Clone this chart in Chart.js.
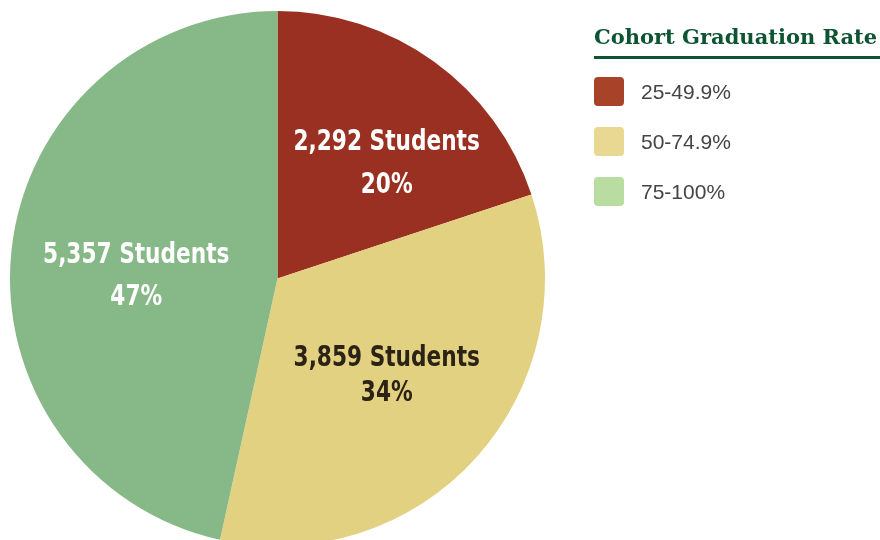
<!DOCTYPE html>
<html>
<head>
<meta charset="utf-8">
<script src="https://cdn.jsdelivr.net/npm/chart.js@4.4.1/dist/chart.umd.min.js"></script>
<style>
  html, body { margin: 0; padding: 0; background: #fff; overflow: hidden; }
  #wrap { position: relative; width: 880px; height: 540px; overflow: hidden; }
  #pie { position: absolute; left: 0; top: 0; }
  #legend { position: absolute; left: 594px; top: 24px; width: 286px; }
  #legend h2 {
    margin: 0; padding: 0 0 7px 0;
    font: bold 21px "DejaVu Serif", serif; color: #0d5432;
    border-bottom: 3px solid #0d5432; white-space: nowrap;
  }
  .item { display: flex; align-items: center; height: 29px; margin-top: 21px; }
  .item:first-of-type { margin-top: 18px; }
  .sw { width: 30px; height: 29px; border-radius: 4px; margin-right: 17px; }
  .item span { font: 21px "Liberation Sans", Arial, sans-serif; color: #444; }
</style>
</head>
<body>
<div id="wrap">
  <canvas id="pie" width="880" height="560"></canvas>
  <div id="legend"><h2>Cohort Graduation Rate</h2></div>
</div>
<script>
// faixas da taxa de graduação e número de alunos em cada uma
var faixas = ['25-49.9%', '50-74.9%', '75-100%'];
var alunos = [2292, 3859, 5357];
var percentuais = ['20%', '34%', '47%'];

var coresPizza = ['#9a3021', '#e3d182', '#87b887'];
var coresLegenda = ['#a8432a', '#e8d891', '#b9dca0'];
var coresTexto = ['#ffffff', '#2b2416', '#ffffff'];
// pequeno ajuste da posição de cada rótulo (px) e espaço entre as linhas
var ajusteRotulo = [[23, 5], [0, -1], [5, 14]];
var entreLinhas = [43, 35, 42];

// legenda em html
var legenda = document.getElementById('legend');
faixas.forEach(function (f, i) {
    var item = document.createElement('div');
    item.className = 'item';
    item.innerHTML = '<div class="sw" style="background:' + coresLegenda[i] + '"></div><span>' + f + '</span>';
    legenda.appendChild(item);
});

const rotulosPizza = {
    id: 'rotulosPizza',
    afterDatasetsDraw(chart) {
        const ctx = chart.ctx;
        const arcos = chart.getDatasetMeta(0).data;
        const estreito = 0.86;
        arcos.forEach(function (arco, i) {
            const p = arco.getProps(['x', 'y', 'startAngle', 'endAngle', 'outerRadius'], true);
            const meio = (p.startAngle + p.endAngle) / 2;
            const r = p.outerRadius * 0.55;
            const x = p.x + Math.cos(meio) * r + ajusteRotulo[i][0];
            const y = p.y + Math.sin(meio) * r + ajusteRotulo[i][1];
            const h = entreLinhas[i] / 2;
            ctx.save();
            ctx.translate(x, y);
            ctx.scale(estreito, 1);
            ctx.textAlign = 'center';
            ctx.textBaseline = 'middle';
            ctx.font = 'bold 28px "DejaVu Sans Condensed", "DejaVu Sans", sans-serif';
            ctx.fillStyle = coresTexto[i];
            ctx.fillText(alunos[i].toLocaleString('en-US') + ' Students', 0, -h);
            ctx.fillText(percentuais[i], 0, h);
            ctx.restore();
        });
    }
};

const grafico = new Chart(document.getElementById('pie'), {
    type: 'pie',
    data: {
        labels: faixas,
        datasets: [{
            data: alunos,
            backgroundColor: coresPizza,
            borderWidth: 0
        }]
    },
    options: {
        responsive: false,
        animation: false,
        layout: { padding: { left: 10, top: 11, right: 335, bottom: 14 } },
        plugins: {
            legend: { display: false },
            tooltip: { enabled: false }
        }
    },
    plugins: [rotulosPizza]
});
</script>
</body>
</html>
